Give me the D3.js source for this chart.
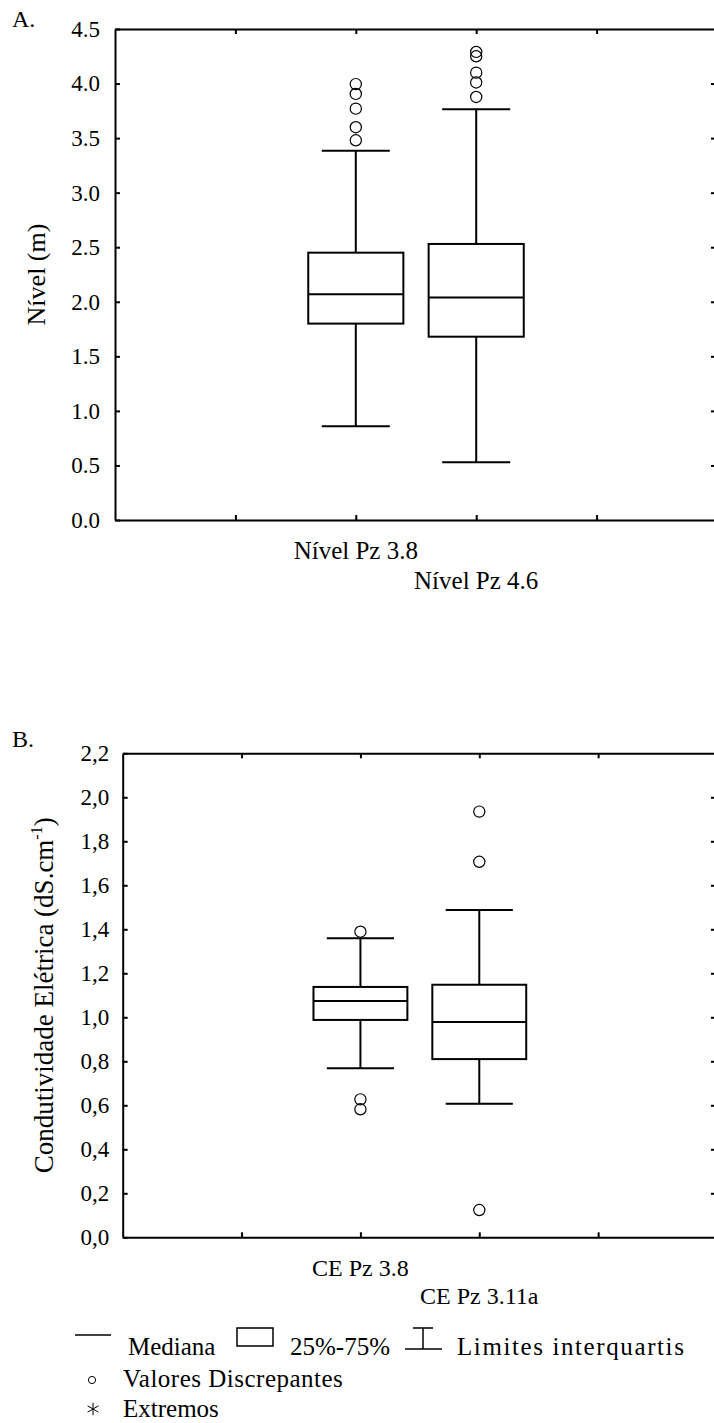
<!DOCTYPE html>
<html>
<head>
  <meta charset="utf-8">
  <title>Nível e Condutividade Elétrica</title>
  <script src="https://d3js.org/d3.v7.min.js"></script>
  <style>
    body { margin: 0; background: #fff; }
    svg { display: block; }
  </style>
</head>
<body>
<script type="text/javascript">
  // painel A - nivel (m)
  var catsA = ["Nível Pz 3.8", "Nível Pz 4.6"];
  var lowA = [0.86, 0.53];
  var q1A = [1.80, 1.68];
  var medA = [2.07, 2.04];
  var q3A = [2.45, 2.53];
  var highA = [3.385, 3.765];
  var outA = [[3.48, 3.60, 3.77, 3.905, 3.995], [3.877, 4.01, 4.10, 4.25, 4.29]];
  var ticksA = [0, 0.5, 1.0, 1.5, 2.0, 2.5, 3.0, 3.5, 4.0, 4.5];

  // painel B - condutividade eletrica
  var catsB = ["CE Pz 3.8", "CE Pz 3.11a"];
  var lowB = [0.768, 0.607];
  var q1B = [0.988, 0.81];
  var medB = [1.074, 0.979];
  var q3B = [1.138, 1.148];
  var highB = [1.359, 1.488];
  var outB = [[0.582, 0.627, 1.389], [0.124, 1.707, 1.935]];
  var ticksB = [0, 0.2, 0.4, 0.6, 0.8, 1.0, 1.2, 1.4, 1.6, 1.8, 2.0, 2.2];

  var w = 714;
  var h = 1423;
  var serif = "'Liberation Serif', 'Times New Roman', serif";

  var svg = d3.select("body").append("svg")
    .attr("width", w)
    .attr("height", h)
    .attr("font-family", serif);

  svg.append("rect").attr("width", w).attr("height", h).attr("fill", "#fff");

  var comma = d3.formatLocale({decimal: ",", thousands: ".", grouping: [3], currency: ["", ""]});

  function panel(p) {
    var x = d3.scaleLinear().domain([0, 5]).range([p.left, p.right]);
    var y = d3.scaleLinear().domain([0, p.ymax]).range([p.bottom, p.top]);
    var step = x(1) - x(0);
    var boxW = step * 0.79;
    var capW = step * 0.565;
    var g = svg.append("g");

    var inner = p.ticks.slice(1, p.ticks.length - 1);

    var axes = [
      d3.axisLeft(y).tickValues(p.ticks).tickSizeInner(-5).tickSizeOuter(0).tickPadding(p.pad).tickFormat(p.fmt),
      d3.axisRight(y).tickValues(inner).tickSizeInner(-6).tickSizeOuter(0).tickFormat(""),
      d3.axisBottom(x).tickValues([1, 2, 3, 4]).tickSizeInner(-5).tickSizeOuter(0).tickFormat(""),
      d3.axisTop(x).tickValues([1, 2, 3, 4]).tickSizeInner(-5).tickSizeOuter(0).tickFormat("")
    ];
    var where = [
      "translate(" + p.left + ",0)",
      "translate(" + p.right + ",0)",
      "translate(0," + p.bottom + ")",
      "translate(0," + p.top + ")"
    ];
    axes.forEach(function(a, i) {
      var ag = g.append("g").attr("transform", where[i]).call(a);
      ag.attr("font-family", serif).attr("font-size", 23);
      ag.selectAll("path, line").attr("stroke", "#000").attr("stroke-width", 2);
      ag.selectAll("text").attr("fill", "#000");
    });

    // titulo do eixo y
    var t = g.append("text")
      .attr("transform", "translate(" + p.titleX + "," + (p.top + p.bottom) / 2 + ") rotate(-90)")
      .attr("text-anchor", "middle")
      .attr("font-size", p.titleSize)
      .text(p.title);
    if (p.sup) {
      t.append("tspan").attr("dy", -11).attr("font-size", 16).text(p.sup);
      t.append("tspan").attr("dy", 11).text(")");
    }

    g.append("text")
      .attr("x", 12)
      .attr("y", p.letterY)
      .attr("font-size", 24)
      .text(p.letter);

    p.cats.forEach(function(c, i) {
      var cx = x(i + 2);
      var bg = g.append("g").attr("stroke", "#000").attr("stroke-width", 2).attr("fill", "none");
      bg.append("line").attr("x1", cx).attr("x2", cx).attr("y1", y(p.q3[i])).attr("y2", y(p.high[i]));
      bg.append("line").attr("x1", cx).attr("x2", cx).attr("y1", y(p.q1[i])).attr("y2", y(p.low[i]));
      bg.append("line").attr("x1", cx - capW / 2).attr("x2", cx + capW / 2).attr("y1", y(p.high[i])).attr("y2", y(p.high[i]));
      bg.append("line").attr("x1", cx - capW / 2).attr("x2", cx + capW / 2).attr("y1", y(p.low[i])).attr("y2", y(p.low[i]));
      bg.append("rect")
        .attr("x", cx - boxW / 2)
        .attr("y", y(p.q3[i]))
        .attr("width", boxW)
        .attr("height", y(p.q1[i]) - y(p.q3[i]))
        .attr("fill", "#fff");
      bg.append("line").attr("x1", cx - boxW / 2).attr("x2", cx + boxW / 2).attr("y1", y(p.med[i])).attr("y2", y(p.med[i]));

      g.selectAll(null)
        .data(p.out[i])
        .enter()
        .append("circle")
        .attr("cx", cx)
        .attr("cy", function(d) { return y(d); })
        .attr("r", 5.6)
        .attr("fill", "none")
        .attr("stroke", "#000")
        .attr("stroke-width", 1.2);

      g.append("text")
        .attr("x", cx)
        .attr("y", p.labY[i])
        .attr("text-anchor", "middle")
        .attr("font-size", p.labSize)
        .text(c);
    });
  }

  panel({
    top: 29, bottom: 520, left: 115, right: 717, ymax: 4.5,
    ticks: ticksA, fmt: d3.format(".1f"), pad: 15,
    title: "Nível (m)", titleX: 45, titleSize: 26,
    letter: "A.", letterY: 27,
    cats: catsA, low: lowA, q1: q1A, med: medA, q3: q3A, high: highA, out: outA,
    labY: [559, 589], labSize: 25
  });

  panel({
    top: 753.3, bottom: 1237.3, left: 122.7, right: 717, ymax: 2.2,
    ticks: ticksB, fmt: comma.format(".1f"), pad: 13.5,
    title: "Condutividade Elétrica (dS.cm", sup: "-1", titleX: 53, titleSize: 27,
    letter: "B.", letterY: 747,
    cats: catsB, low: lowB, q1: q1B, med: medB, q3: q3B, high: highB, out: outB,
    labY: [1276, 1304], labSize: 24
  });

  // legenda
  var leg = svg.append("g").attr("font-size", 25);
  var ls = leg.append("g").attr("stroke", "#000").attr("fill", "none").attr("stroke-width", 1.5);
  ls.append("line").attr("x1", 75).attr("x2", 111).attr("y1", 1335).attr("y2", 1335);
  ls.append("rect").attr("x", 237).attr("y", 1328).attr("width", 36).attr("height", 18);
  ls.append("line").attr("x1", 413).attr("x2", 433).attr("y1", 1328).attr("y2", 1328);
  ls.append("line").attr("x1", 423).attr("x2", 423).attr("y1", 1328).attr("y2", 1349);
  ls.append("line").attr("x1", 405).attr("x2", 442).attr("y1", 1349).attr("y2", 1349);
  ls.append("circle").attr("cx", 92).attr("cy", 1380).attr("r", 3.6).attr("stroke-width", 1);
  ls.append("path")
    .attr("transform", "translate(93,1409)")
    .attr("stroke-width", 1)
    .attr("d", d3.symbol(d3.symbolAsterisk, 110)());

  leg.append("text").attr("x", 128).attr("y", 1355).text("Mediana");
  leg.append("text").attr("x", 290).attr("y", 1355).text("25%-75%");
  leg.append("text").attr("x", 457).attr("y", 1355).attr("letter-spacing", 1.6).text("Limites interquartis");
  leg.append("text").attr("x", 123).attr("y", 1387).attr("letter-spacing", 0.5).text("Valores Discrepantes");
  leg.append("text").attr("x", 123).attr("y", 1417).text("Extremos");
</script>
</body>
</html>
